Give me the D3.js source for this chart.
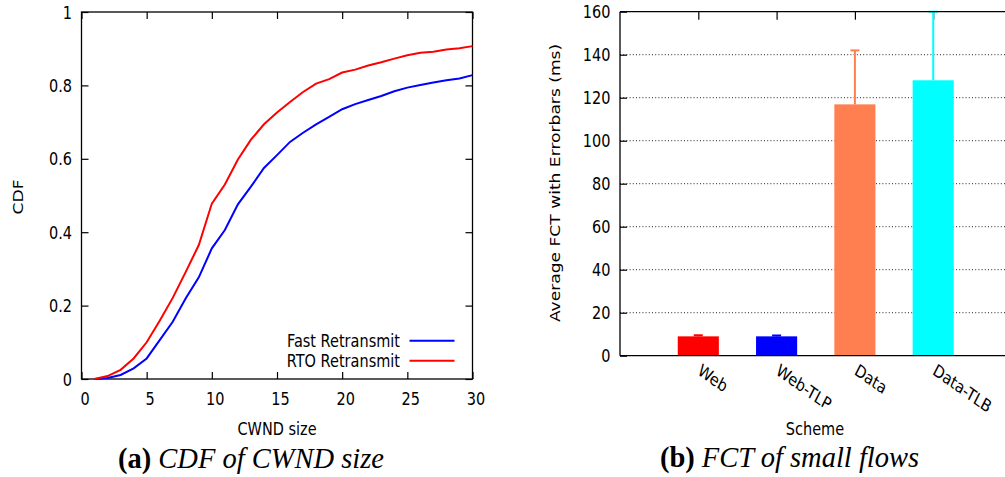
<!DOCTYPE html>
<html>
<head>
<meta charset="utf-8">
<script src="https://cdn.jsdelivr.net/npm/d3@7/dist/d3.min.js"></script>
<style>
  body { margin: 0; background: #fff; }
  svg { display: block; }
  text { font-family: "DejaVu Sans", sans-serif; font-size: 14.5px; fill: #000; }
  .caption { font-family: "Liberation Serif", "Times New Roman", serif; font-size: 28.5px; }
</style>
</head>
<body>
<svg id="chart" width="1005" height="477"></svg>
<script>
// (a) CDF of CWND size
const cwndSize = [1, 2, 3, 4, 5, 6, 7, 8, 9, 10, 11, 12, 13, 14, 15,
                  16, 17, 18, 19, 20, 21, 22, 23, 24, 25, 26, 27, 28, 29, 30];
const fastRetransmit = [0, 0.003, 0.011, 0.029, 0.056, 0.106, 0.156, 0.22, 0.277, 0.356,
                        0.406, 0.476, 0.524, 0.575, 0.61, 0.646, 0.671, 0.694, 0.714, 0.735,
                        0.749, 0.76, 0.771, 0.784, 0.794, 0.801, 0.808, 0.814, 0.819, 0.828];
const rtoRetransmit = [0, 0.008, 0.025, 0.056, 0.1, 0.159, 0.221, 0.292, 0.365, 0.478,
                       0.53, 0.598, 0.652, 0.694, 0.726, 0.755, 0.782, 0.805, 0.817, 0.835,
                       0.843, 0.854, 0.863, 0.873, 0.882, 0.889, 0.892, 0.898, 0.901, 0.907];
const cdfSeries = ["Fast Retransmit", "RTO Retransmit"];
const cwndTicks = [0, 5, 10, 15, 20, 25, 30];
const cdfTicks = [0, 0.2, 0.4, 0.6, 0.8, 1];

// (b) FCT of small flows
const schemes = ["Web", "Web-TLP", "Data", "Data-TLB"];
const fctMean = [9.0, 9.0, 116.9, 128.1];
const fctErrTop = [9.5, 9.4, 142, 160];
const fctTicks = [0, 20, 40, 60, 80, 100, 120, 140, 160];

const SY = 1.18; // the original picture is a little stretched vertically
const svg = d3.select("#chart");

function label(g, x, y, str, anchor, rot) {
  return g.append("g")
    .attr("transform", `translate(${x},${y}) scale(1,${SY}) rotate(${rot || 0})`)
    .append("text")
    .attr("text-anchor", anchor || "middle")
    .text(str);
}

// ---------- left panel ----------
{
  const x = d3.scaleLinear().domain([0, 30]).range([81.5, 472.5]);
  const y = d3.scaleLinear().domain([0, 1]).range([379, 12]);
  const g = svg.append("g");

  const bottom = g.append("g").attr("transform", `translate(0,${y(0)})`)
    .call(d3.axisBottom(x).tickValues(cwndTicks).tickSize(-7).tickFormat(d3.format("~g")));
  bottom.selectAll("text").attr("y", 0).attr("dy", 0)
    .attr("transform", `translate(3,26) scale(1,${SY})`);

  g.append("g").attr("transform", `translate(0,${y(1)})`)
    .call(d3.axisTop(x).tickValues(cwndTicks).tickSize(-7).tickFormat(""));

  const left = g.append("g").attr("transform", `translate(${x(0)},0)`)
    .call(d3.axisLeft(y).tickValues(cdfTicks).tickSize(-7).tickFormat(d3.format("~g")));
  left.selectAll("text").attr("x", 0).attr("dy", 0)
    .attr("transform", `translate(-9.5,6) scale(1,${SY})`);

  g.append("g").attr("transform", `translate(${x(30)},0)`)
    .call(d3.axisRight(y).tickValues(cdfTicks).tickSize(-7).tickFormat(""));

  g.selectAll(".domain").remove();
  g.selectAll(".tick line").attr("stroke", "#000").attr("stroke-width", 1.2);
  g.selectAll(".tick text").style("font-size", "14.5px").style("font-family", "DejaVu Sans");

  g.append("rect")
    .attr("x", x(0)).attr("y", y(1))
    .attr("width", x(30) - x(0)).attr("height", y(0) - y(1))
    .attr("fill", "none").attr("stroke", "#000").attr("stroke-width", 1.3);

  const line = d3.line().x((d, i) => x(cwndSize[i])).y(d => y(d));
  const colors = ["#0000ff", "#ff0000"];
  [fastRetransmit, rtoRetransmit].forEach((s, k) => {
    g.append("path").datum(s).attr("d", line)
      .attr("fill", "none").attr("stroke", colors[k]).attr("stroke-width", 2);
  });

  cdfSeries.forEach((name, k) => {
    const ly = 340.7 + k * 20;
    label(g, 400, ly + 6, name, "end");
    g.append("line").attr("x1", 409.5).attr("x2", 454.5).attr("y1", ly).attr("y2", ly)
      .attr("stroke", colors[k]).attr("stroke-width", 2);
  });

  label(g, 277, 435, "CWND size");
  label(g, 22.5, 197, "CDF", "middle", -90);

  const cap = g.append("text").attr("class", "caption")
    .attr("x", 251).attr("y", 468).attr("text-anchor", "middle");
  cap.append("tspan").attr("font-weight", "bold").text("(a) ");
  cap.append("tspan").attr("font-style", "italic").text("CDF of CWND size");
}

// ---------- right panel ----------
{
  const x = d3.scaleLinear().domain([0, 5]).range([620, 1011.5]);
  const y = d3.scaleLinear().domain([0, 160]).range([355.7, 11.7]);
  const g = svg.append("g");
  const pos = schemes.map((s, i) => i + 1);
  const barColors = ["#ff0000", "#0000ff", "#ff7f50", "#00ffff"];
  const bw = x(0.525) - x(0);

  // dotted grid
  g.append("g").selectAll("line").data(fctTicks.slice(1, -1)).join("line")
    .attr("x1", x(0)).attr("x2", x(5)).attr("y1", d => y(d)).attr("y2", d => y(d))
    .attr("stroke", "#222").attr("stroke-width", 1).attr("stroke-dasharray", "1,2.2");

  const left = g.append("g").attr("transform", `translate(${x(0)},0)`)
    .call(d3.axisLeft(y).tickValues(fctTicks).tickSize(-7));
  left.selectAll("text").attr("x", 0).attr("dy", 0)
    .attr("transform", `translate(-9.5,6) scale(1,${SY})`);

  g.append("g").attr("transform", `translate(0,${y(160)})`)
    .call(d3.axisTop(x).tickValues(pos).tickSize(-8).tickFormat(""));

  const bottom = g.append("g").attr("transform", `translate(0,${y(0)})`)
    .call(d3.axisBottom(x).tickValues(pos).tickSize(0).tickFormat((d, i) => schemes[i]));
  bottom.selectAll("text").attr("y", 0).attr("dy", 0).attr("text-anchor", "start")
    .attr("transform", `translate(-2,18) scale(1,${SY}) rotate(31)`);

  g.selectAll(".domain").remove();
  g.selectAll(".tick line").attr("stroke", "#000").attr("stroke-width", 1.2);
  g.selectAll(".tick text").style("font-size", "14.5px").style("font-family", "DejaVu Sans");

  // bars and error bars
  g.append("g").selectAll("rect").data(fctMean).join("rect")
    .attr("x", (d, i) => x(pos[i]) - bw / 2).attr("width", bw)
    .attr("y", d => y(d)).attr("height", d => y(0) - y(d))
    .attr("fill", (d, i) => barColors[i]);

  const eb = g.append("g");
  fctErrTop.forEach((e, i) => {
    eb.append("line").attr("x1", x(pos[i])).attr("x2", x(pos[i]))
      .attr("y1", y(fctMean[i])).attr("y2", y(e))
      .attr("stroke", barColors[i]).attr("stroke-width", 2);
    eb.append("line").attr("x1", x(pos[i]) - 4.5).attr("x2", x(pos[i]) + 4.5)
      .attr("y1", y(e)).attr("y2", y(e))
      .attr("stroke", barColors[i]).attr("stroke-width", 2);
  });

  // frame lines (right side falls outside the picture)
  g.append("line").attr("x1", x(0)).attr("x2", x(5)).attr("y1", y(0)).attr("y2", y(0))
    .attr("stroke", "#000").attr("stroke-width", 1.3);
  g.append("line").attr("x1", x(0)).attr("x2", x(5)).attr("y1", y(160)).attr("y2", y(160))
    .attr("stroke", "#000").attr("stroke-width", 1.3);
  g.append("line").attr("x1", x(0)).attr("x2", x(0)).attr("y1", y(0)).attr("y2", y(160))
    .attr("stroke", "#000").attr("stroke-width", 1.3);

  label(g, 815, 435, "Scheme");
  label(g, 560, 183, "Average FCT with Errorbars (ms)", "middle", -90);

  const cap = g.append("text").attr("class", "caption")
    .attr("x", 789.5).attr("y", 467).attr("text-anchor", "middle");
  cap.append("tspan").attr("font-weight", "bold").text("(b) ");
  cap.append("tspan").attr("font-style", "italic").text("FCT of small flows");
}
</script>
</body>
</html>
